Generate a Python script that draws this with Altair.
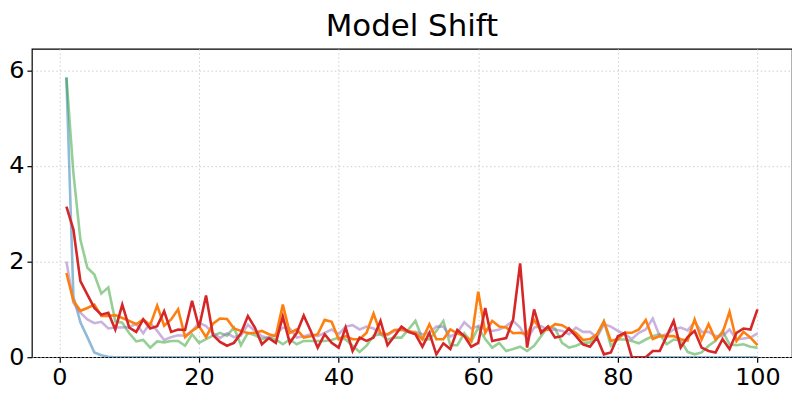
import altair as alt
import pandas as pd

steps = list(range(1, 101))

blue = [5.85, 1.27, 0.73, 0.42, 0.10, 0.04, 0.01] + [0.0] * 93

green = [5.85, 3.85, 2.46, 1.87, 1.73, 1.33, 1.46, 0.75, 0.72, 0.50,
         0.33, 0.36, 0.20, 0.33, 0.31, 0.34, 0.34, 0.24, 0.48, 0.30,
         0.38, 0.45, 0.51, 0.45, 0.62, 0.25, 0.51, 0.46, 0.38, 0.41,
         0.37, 0.27, 0.37, 0.27, 0.34, 0.34, 0.34, 0.34, 0.36, 0.41,
         0.37, 0.24, 0.11, 0.24, 0.45, 0.48, 0.37, 0.41, 0.41, 0.58,
         0.76, 0.38, 0.37, 0.55, 0.76, 0.25, 0.25, 0.50, 0.32, 0.62,
         0.38, 0.20, 0.30, 0.13, 0.17, 0.22, 0.13, 0.24, 0.44, 0.64,
         0.60, 0.30, 0.20, 0.24, 0.30, 0.31, 0.44, 0.75, 0.24, 0.37,
         0.37, 0.34, 0.29, 0.37, 0.44, 0.48, 0.27, 0.37, 0.35, 0.11,
         0.06, 0.10, 0.24, 0.34, 0.55, 0.27, 0.25, 0.27, 0.22, 0.20]

purple = [2.00, 1.14, 0.93, 0.79, 0.71, 0.74, 0.60, 0.62, 0.62, 0.63,
          0.70, 0.50, 0.72, 0.55, 0.36, 0.42, 0.46, 0.45, 0.55, 0.72,
          0.65, 0.50, 0.40, 0.50, 0.42, 0.45, 0.68, 0.55, 0.44, 0.40,
          0.48, 0.62, 0.60, 0.41, 0.44, 0.48, 0.44, 0.51, 0.58, 0.48,
          0.64, 0.67, 0.58, 0.64, 0.60, 0.48, 0.46, 0.55, 0.57, 0.53,
          0.53, 0.48, 0.51, 0.64, 0.64, 0.43, 0.51, 0.73, 0.60, 0.65,
          0.58, 0.55, 0.58, 0.65, 0.76, 0.62, 0.375, 0.62, 0.65, 0.57,
          0.58, 0.55, 0.48, 0.62, 0.53, 0.53, 0.41, 0.69, 0.64, 0.55,
          0.48, 0.38, 0.51, 0.58, 0.81, 0.44, 0.48, 0.58, 0.62, 0.56,
          0.74, 0.53, 0.53, 0.44, 0.44, 0.58, 0.375, 0.39, 0.41, 0.50]

orange = [1.76, 1.18, 0.97, 1.03, 1.10, 0.86, 0.86, 0.88, 0.82, 0.76,
          0.69, 0.79, 0.67, 1.08, 0.66, 0.79, 1.00, 0.42, 0.55, 0.65,
          0.42, 0.70, 0.81, 0.80, 0.60, 0.55, 0.50, 0.51, 0.55, 0.48,
          0.44, 1.10, 0.51, 0.58, 0.41, 0.44, 0.48, 0.78, 0.74, 0.375,
          0.44, 0.375, 0.375, 0.51, 0.91, 0.50, 0.48, 0.57, 0.58, 0.55,
          0.51, 0.375, 0.69, 0.375, 0.375, 0.58, 0.50, 0.44, 0.34, 1.37,
          0.51, 0.76, 0.64, 0.62, 0.50, 0.51, 0.48, 0.78, 0.55, 0.58,
          0.69, 0.67, 0.58, 0.51, 0.36, 0.38, 0.48, 0.75, 0.34, 0.38,
          0.51, 0.51, 0.58, 0.78, 0.38, 0.44, 0.44, 0.44, 0.375, 0.35,
          0.79, 0.37, 0.69, 0.37, 0.51, 0.95, 0.34, 0.53, 0.41, 0.25]

red = [3.15, 2.67, 1.59, 1.31, 1.03, 0.89, 0.93, 0.58, 1.10, 0.62,
       0.53, 0.79, 0.60, 0.65, 0.96, 0.53, 0.58, 0.57, 1.18, 0.62,
       1.29, 0.46, 0.32, 0.24, 0.30, 0.50, 0.86, 0.62, 0.27, 0.40,
       0.30, 0.85, 0.30, 0.51, 0.87, 0.55, 0.20, 0.48, 0.30, 0.20,
       0.62, 0.13, 0.41, 0.34, 0.41, 0.76, 0.25, 0.44, 0.64, 0.53,
       0.48, 0.22, 0.51, 0.06, 0.29, 0.17, 0.57, 0.44, 0.22, 0.30,
       1.03, 0.34, 0.37, 0.40, 0.79, 1.96, 0.20, 1.00, 0.51, 0.64,
       0.41, 0.44, 0.60, 0.44, 0.27, 0.22, 0.41, 0.06, 0.10, 0.44,
       0.51, 0.00, 0.00, 0.00, 0.13, 0.13, 0.44, 0.76, 0.20, 0.42,
       0.55, 0.20, 0.13, 0.10, 0.375, 0.17, 0.51, 0.60, 0.58, 1.00]

series_names = ["blue", "green", "purple", "orange", "red"]
series_values = [blue, green, purple, orange, red]
series_colors = ["#1f77b4", "#2ca02c", "#9467bd", "#ff7f0e", "#d62728"]
series_opacity = [0.5, 0.5, 0.5, 1.0, 1.0]

x_ticks = [0, 20, 40, 60, 80, 100]
y_ticks = [0, 2, 4, 6]

rows = []
for name, vals in zip(series_names, series_values):
    for s, v in zip(steps, vals):
        rows.append({"step": s, "value": v, "series": name})
df = pd.DataFrame(rows)

xscale = alt.Scale(domain=[-3.95, 104.95], nice=False, zero=False)
yscale = alt.Scale(domain=[0, 6.45], nice=False, zero=False)

layers = []
for i, (name, col, op) in enumerate(zip(series_names, series_colors, series_opacity)):
    enc = {}
    if i == 0:
        enc["x"] = alt.X("step:Q", scale=xscale, title=None,
                         axis=alt.Axis(values=x_ticks, grid=True, format="d"))
        enc["y"] = alt.Y("value:Q", scale=yscale, title=None,
                         axis=alt.Axis(values=y_ticks, grid=True, format="d"))
    else:
        enc["x"] = alt.X("step:Q", scale=xscale)
        enc["y"] = alt.Y("value:Q", scale=yscale)
    layer = alt.Chart(df).transform_filter(
        alt.datum.series == name
    ).mark_line(color=col, opacity=op, strokeWidth=2.6, clip=True).encode(**enc)
    layers.append(layer)

chart = alt.layer(*layers).properties(
    width=764,
    height=310,
    background="white",
    title=alt.Title("Model Shift", fontSize=31, font="DejaVu Sans",
                    fontWeight="normal", color="#000000", offset=6, anchor="middle"),
    autosize=alt.AutoSizeParams(type="none"),
    padding={"left": 24, "top": 40, "right": 0, "bottom": 34},
).configure_view(
    stroke="#000000", strokeWidth=1.2
).configure_axis(
    labelFont="DejaVu Sans", labelFontSize=24, labelColor="#000000",
    tickColor="#000000", tickSize=5, tickWidth=1.2, labelPadding=3,
    domain=False, gridColor="#c8c8c8", gridDash=[1.5, 2.5], gridWidth=0.9,
    grid=True
)

chart.save("out.html", embed_options={"renderer": "svg", "actions": False})
